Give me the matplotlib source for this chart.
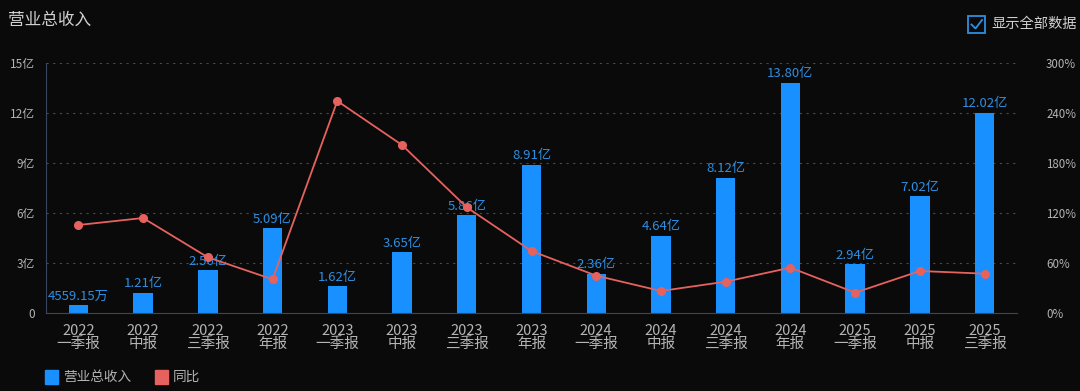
import matplotlib
matplotlib.use("Agg")
import matplotlib.pyplot as plt
from matplotlib.patches import Rectangle
from matplotlib.lines import Line2D
import numpy as np

plt.rcParams['font.family'] = ['Noto Sans CJK SC', 'DejaVu Sans']

# data
years = ['2022', '2022', '2022', '2022', '2023', '2023', '2023', '2023',
         '2024', '2024', '2024', '2024', '2025', '2025', '2025']
periods = ['一季报', '中报', '三季报', '年报', '一季报', '中报', '三季报', '年报',
           '一季报', '中报', '三季报', '年报', '一季报', '中报', '三季报']
revenue = [0.455915, 1.21, 2.56, 5.09, 1.62, 3.65, 5.86, 8.91,
           2.36, 4.64, 8.12, 13.80, 2.94, 7.02, 12.02]  # 亿
revenue_labels = ['4559.15万', '1.21亿', '2.56亿', '5.09亿', '1.62亿', '3.65亿', '5.86亿', '8.91亿',
                  '2.36亿', '4.64亿', '8.12亿', '13.80亿', '2.94亿', '7.02亿', '12.02亿']
yoy = [105.6, 114.0, 66.8, 40.4, 254.4, 201.6, 126.8, 74.4,
       44.8, 26.4, 37.6, 54.4, 24.4, 50.4, 47.2]  # %

bg = '#0a0a0a'
bar_color = '#1890ff'
line_color = '#e5625f'
text_color = '#b4b4b4'
axis_color = '#3a4660'
grid_color = '#4a4a4a'

fig = plt.figure(figsize=(10.8, 3.91), dpi=100, facecolor=bg)
ax = fig.add_axes([46 / 1080, 1 - 313 / 391, (1017 - 46) / 1080, 250 / 391])
ax.set_facecolor(bg)

x = np.arange(len(revenue))
ax.bar(x, revenue, width=0.3, color=bar_color, zorder=2)
for xi, v, lab in zip(x, revenue, revenue_labels):
    ax.text(xi, v + 0.15, lab, ha='center', va='bottom', color='#2f8ee0', fontsize=9.5, zorder=3)

ax.set_xlim(-0.5, len(revenue) - 0.5)
ax.set_ylim(0, 15)
ax.set_yticks([0, 3, 6, 9, 12, 15])
ax.set_yticklabels(['0', '3亿', '6亿', '9亿', '12亿', '15亿'])
ax.set_xticks(x)
ax.set_xticklabels([f'{y}\n{p}' for y, p in zip(years, periods)], linespacing=0.9)
ax.tick_params(axis='both', colors=text_color, labelsize=8.5, length=0)
ax.tick_params(axis='x', pad=8, labelsize=10.5)
ax.tick_params(axis='y', pad=8)
ax.grid(axis='y', color=grid_color, linestyle=(0, (2, 4)), linewidth=0.8, zorder=0)
for s in ['top', 'right']:
    ax.spines[s].set_visible(False)
ax.spines['left'].set_color(axis_color)
ax.spines['bottom'].set_color(axis_color)

ax2 = ax.twinx()
ax2.plot(x, yoy, color=line_color, linewidth=1.3, marker='o', markersize=5.5, zorder=5)
ax2.set_ylim(0, 300)
ax2.set_yticks([0, 60, 120, 180, 240, 300])
ax2.set_yticklabels(['0%', '60%', '120%', '180%', '240%', '300%'])
ax2.tick_params(axis='y', colors=text_color, labelsize=8.3, length=0, pad=21)
for s in ax2.spines.values():
    s.set_visible(False)

# title
fig.text(8 / 1080, 1 - 20 / 391, '营业总收入', color='#d0d0d0', fontsize=12, va='center', ha='left')

# checkbox
fig.patches.append(Rectangle((968 / 1080, 1 - 33 / 391), 17 / 1080, 17 / 391,
                             transform=fig.transFigure, fill=False, edgecolor='#2f8ee0', linewidth=1.3))
fig.lines.append(Line2D([971.5 / 1080, 975.5 / 1080, 982 / 1080],
                        [1 - 24.5 / 391, 1 - 28.5 / 391, 1 - 20 / 391],
                        transform=fig.transFigure, color='#2f8ee0', linewidth=1.3))
fig.text(991 / 1080, 1 - 24 / 391, '显示全部数据', color='#d0d0d0', fontsize=10.3, va='center', ha='left')

# legend
fig.patches.append(Rectangle((45 / 1080, 1 - 384 / 391), 13 / 1080, 14 / 391,
                             transform=fig.transFigure, color=bar_color))
fig.text(63 / 1080, 1 - 377 / 391, '营业总收入', color=text_color, fontsize=9.8, va='center', ha='left')
fig.patches.append(Rectangle((155 / 1080, 1 - 384 / 391), 13 / 1080, 14 / 391,
                             transform=fig.transFigure, color=line_color))
fig.text(173 / 1080, 1 - 377 / 391, '同比', color=text_color, fontsize=9.8, va='center', ha='left')

fig.savefig('out.png', dpi=100, facecolor=bg)
